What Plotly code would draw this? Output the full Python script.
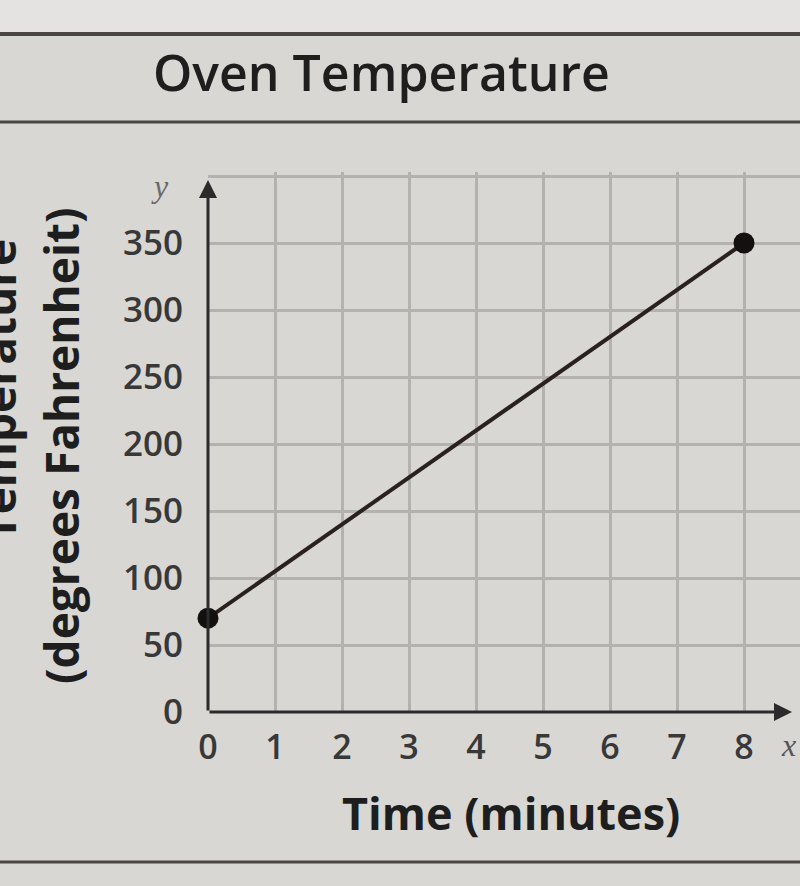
import plotly.graph_objects as go

# Data
time_min = [0, 8]
temp_f = [70, 350]
x_ticks = [0, 1, 2, 3, 4, 5, 6, 7, 8]
y_ticks = [0, 50, 100, 150, 200, 250, 300, 350, 400]
y_ticktext = ["0", "50", "100", "150", "200", "250", "300", "350", ""]

W, H = 800, 886
def px(x):
    return x / W
def py(y):
    return 1 - y / H

X0, X1 = 208, 800     # plot area pixels
Y0, Y1 = 712, 172
xunit = 67.0
yunit = 67.0 / 50
xmax = (X1 - X0) / xunit
ymax = (Y0 - Y1) / yunit

FONT = "Open Sans"
BG = "#d8d7d4"
GRID = "#b3b2b0"
INK = "#1e1e1e"
TICK = "#383838"

fig = go.Figure()
fig.add_trace(go.Scatter(
    x=time_min, y=temp_f, mode="lines+markers",
    line=dict(color="#2a2020", width=4),
    marker=dict(size=21, color="#141010"),
    cliponaxis=False, showlegend=False, hoverinfo="skip",
))

fig.update_layout(
    width=W, height=H,
    margin=dict(l=0, r=0, t=0, b=0, autoexpand=False),
    paper_bgcolor=BG, plot_bgcolor=BG,
    xaxis=dict(
        domain=[px(X0), px(X1)], range=[0, xmax], automargin=False,
        tickvals=x_ticks, ticktext=[str(v) for v in x_ticks],
        showgrid=True, gridcolor=GRID, gridwidth=3,
        zeroline=False, showline=False, ticks="",
        ticklabelstandoff=12,
        tickfont=dict(family=FONT, size=34, color=TICK, weight=600),
        fixedrange=True,
    ),
    yaxis=dict(
        domain=[py(Y0), py(Y1)], range=[0, ymax], automargin=False,
        tickvals=y_ticks, ticktext=y_ticktext,
        showgrid=True, gridcolor=GRID, gridwidth=3,
        zeroline=False, showline=False, ticks="",
        ticklabelstandoff=24,
        tickfont=dict(family=FONT, size=35, color=TICK, weight=600),
        fixedrange=True,
    ),
    font=dict(family=FONT, color=INK),
)

# band lines
fig.add_shape(type="rect", xref="paper", yref="paper", x0=0, x1=1,
              y0=py(32), y1=1, fillcolor="#e4e3e1", line=dict(width=0), layer="below")
for yy, w in [(34, 4), (122, 3), (862, 3)]:
    fig.add_shape(type="line", xref="paper", yref="paper",
                  x0=0, x1=1, y0=py(yy), y1=py(yy),
                  line=dict(color="#4a4542", width=w))

# axis arrows
fig.add_annotation(x=(792 - X0) / xunit, y=0, ax=0, ay=0, xref="x", yref="y",
                   axref="x", ayref="y", showarrow=True, arrowhead=2,
                   arrowsize=1.2, arrowwidth=3, arrowcolor="#2b2b2b", text="")
fig.add_annotation(x=0, y=(Y0 - 180) / yunit, ax=0, ay=0, xref="x", yref="y",
                   axref="x", ayref="y", showarrow=True, arrowhead=2,
                   arrowsize=1.2, arrowwidth=3, arrowcolor="#2b2b2b", text="")

def label(text, x, y, size, weight=400, angle=0, family=FONT, color=INK):
    fig.add_annotation(text=text, xref="paper", yref="paper",
                       x=px(x), y=py(y), xanchor="center", yanchor="middle",
                       showarrow=False, textangle=angle,
                       font=dict(family=family, size=size, color=color, weight=weight))

label("Oven Temperature", 381, 72, 50, 600)
label("Time (minutes)", 511, 812, 45, 700)
label("(degrees Fahrenheit)", 61, 446, 46, 700, -90)
label("Temperature", -2, 390, 46, 700, -90)
label("<i>y</i>", 160, 186, 32, 400, 0, "Liberation Serif", "#6a6a6a")
label("<i>x</i>", 788, 745, 32, 400, 0, "Liberation Serif", "#555555")

fig.write_html("out.html")
